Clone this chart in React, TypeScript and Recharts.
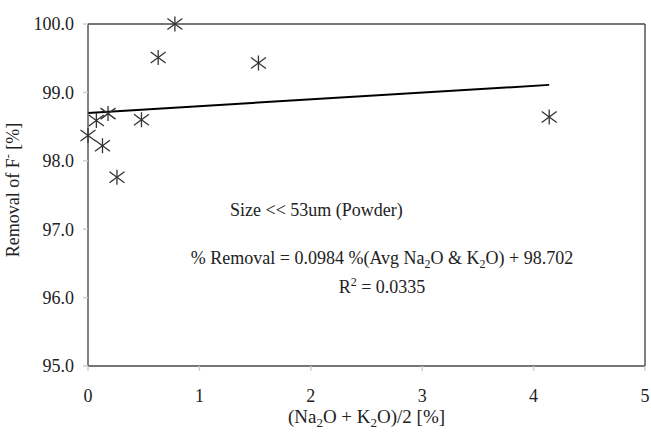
import React from 'react';
import {
  ComposedChart, Scatter, Line, XAxis, YAxis, ReferenceLine,
} from 'recharts';

// values
const xValues = [0.0, 0.075, 0.18, 0.13, 0.26, 0.48, 0.63, 0.78, 1.53, 4.14];
const removal = [98.37, 98.59, 98.69, 98.22, 97.76, 98.6, 99.51, 100.0, 99.43, 98.64];
const trendX = [0, 4.14];
const trendY = [98.7, 99.11];
const xTicks = [0, 1, 2, 3, 4, 5];
const yTicks = [95, 96, 97, 98, 99, 100];

const points = xValues.map((x, i) => ({ x, y: removal[i] }));
const trend = trendX.map((x, i) => ({ x, y: trendY[i] }));

const FONT = "'Liberation Serif', 'Times New Roman', Tinos, 'DejaVu Serif', serif";
const INK = '#222';
const FRAME = '#4a4a4a';
const txt = { fontFamily: FONT };

// asterisk marker like Excel's star
const Star = (props: any) => {
  const { cx, cy } = props;
  if (cx == null || cy == null) return null;
  const s = 7.5;
  return (
    <g stroke="#333" strokeWidth={1.3}>
      <line x1={cx} y1={cy - s} x2={cx} y2={cy + s} />
      <line x1={cx - s} y1={cy - 5.5} x2={cx + s} y2={cy + 5.5} />
      <line x1={cx - s} y1={cy + 5.5} x2={cx + s} y2={cy - 5.5} />
    </g>
  );
};

const XTitle = (props: any) => {
  const { viewBox } = props;
  const cx = viewBox.x + viewBox.width / 2;
  return (
    <text x={cx} y={423} textAnchor="middle" style={txt} fontSize={19} fill={INK}>
      (Na<tspan dy={4} fontSize={13}>2</tspan>
      <tspan dy={-4}>O +  K</tspan>
      <tspan dy={4} fontSize={13}>2</tspan>
      <tspan dy={-4}>O)/2 [%]</tspan>
    </text>
  );
};

const YTitle = () => (
  <text
    x={19}
    y={190}
    transform="rotate(-90 19 190)"
    textAnchor="middle"
    style={txt}
    fontSize={18}
    fill={INK}
  >
    Removal of F<tspan dy={-7} fontSize={12}>-</tspan>
    <tspan dy={7}> [%]</tspan>
  </text>
);

export default function App() {
  return (
    <div style={{ position: 'absolute', left: 0, top: 0, width: 651, height: 435, background: '#fff', fontFamily: FONT }}>
      <ComposedChart
        width={651}
        height={435}
        margin={{ top: 24, right: 6, bottom: 39, left: 28 }}
        style={txt}
      >
        <XAxis
          type="number"
          dataKey="x"
          domain={[0, 5]}
          ticks={xTicks}
          stroke={FRAME}
          strokeWidth={1.4}
          tickSize={5}
          tickMargin={18}
          tickLine={{ stroke: '#ccc' }}
          tick={{ fontFamily: FONT, fontSize: 18, fill: INK }}
          height={30}
          label={{ content: <XTitle /> }}
        />
        <YAxis
          type="number"
          dataKey="y"
          domain={[95, 100]}
          ticks={yTicks}
          width={60}
          stroke={FRAME}
          strokeWidth={1.4}
          tickSize={5}
          tickMargin={9}
          tickLine={{ stroke: '#ccc' }}
          tick={{ fontFamily: FONT, fontSize: 18, fill: INK }}
          tickFormatter={(v: number) => v.toFixed(1)}
          label={{ content: <YTitle /> }}
        />
        <ReferenceLine y={100} stroke={FRAME} strokeWidth={1.4} ifOverflow="visible" />
        <ReferenceLine x={5} stroke={FRAME} strokeWidth={1.4} ifOverflow="visible" />
        <Line
          data={trend}
          dataKey="y"
          type="linear"
          stroke="#000"
          strokeWidth={2}
          dot={false}
          activeDot={false}
          isAnimationActive={false}
        />
        <Scatter data={points} dataKey="y" shape={<Star />} isAnimationActive={false} />
      </ComposedChart>
      <svg
        width={651}
        height={435}
        style={{ position: 'absolute', left: 0, top: 0, pointerEvents: 'none', fontFamily: FONT }}
      >
        <text x={230} y={216} fontSize={18} fill={INK}>
          Size &lt;&lt; 53um (Powder)
        </text>
        <text x={382} y={264} textAnchor="middle" fontSize={18} fill={INK}>
          % Removal = 0.0984 %(Avg Na<tspan dy={4} fontSize={12}>2</tspan>
          <tspan dy={-4}>O &amp; K</tspan>
          <tspan dy={4} fontSize={12}>2</tspan>
          <tspan dy={-4}>O) + 98.702</tspan>
        </text>
        <text x={382} y={293} textAnchor="middle" fontSize={18} fill={INK}>
          R<tspan dy={-7} fontSize={12}>2</tspan>
          <tspan dy={7}> = 0.0335</tspan>
        </text>
      </svg>
    </div>
  );
}
